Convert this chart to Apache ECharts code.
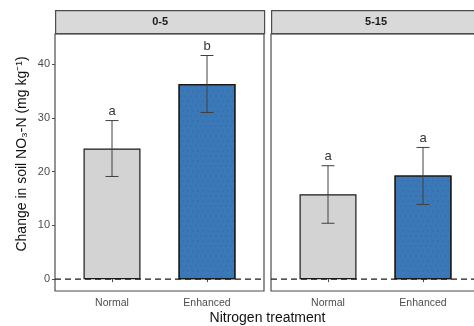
<!DOCTYPE html>
<html><head><meta charset="utf-8">
<script src="https://cdn.jsdelivr.net/npm/echarts@6/dist/echarts.min.js"></script>
<style>html,body{margin:0;padding:0;background:#fff}#c{width:474px;height:326px}</style>
</head><body><div id="c"></div>
<script>
var categories = ['Normal', 'Enhanced'];
var panels = ['0-5', '5-15'];
var means05 = [24.3, 36.3];
var lower05 = [19.1, 31.0];
var upper05 = [29.5, 41.6];
var letters05 = ['a', 'b'];
var means515 = [15.8, 19.3];
var lower515 = [10.4, 13.9];
var upper515 = [21.1, 24.5];
var letters515 = ['a', 'a'];
var yTicks = [0, 10, 20, 30, 40];
var xTitle = 'Nitrogen treatment';
var yTitle = 'Change in soil NO\u2083-N (mg kg\u207B\u00B9)';
var colors = ['#d3d3d3', '#3b78b8'];

var FONT = 'Liberation Sans, Arial, sans-serif';
var chart = echarts.init(document.getElementById('c'), null, {renderer: 'canvas'});

var grids = [
  {left: 55, top: 34, width: 209, height: 257},
  {left: 271, top: 34, width: 209, height: 257}
];
var panelData = [
  {m: means05, lo: lower05, hi: upper05, l: letters05},
  {m: means515, lo: lower515, hi: upper515, l: letters515}
];

var graphics = grids.map(function (g, i) {
  return {
    type: 'group', left: g.left, top: 10,
    children: [
      {type: 'rect', shape: {x: 0, y: 0, width: g.width, height: 23}, style: {fill: '#d9d9d9', stroke: '#4d4d4d', lineWidth: 1.2}},
      {type: 'text', x: g.width / 2, y: 11.5, style: {text: panels[i], fontFamily: FONT, fontSize: 11, fontWeight: 'bold', fill: '#1a1a1a', align: 'center', verticalAlign: 'middle'}}
    ]
  };
});
graphics.push({type: 'text', x: 267.5, y: 318, style: {text: xTitle, fontFamily: FONT, fontSize: 14, fill: '#111', align: 'center', verticalAlign: 'middle'}});
graphics.push({type: 'text', x: 22, y: 154, rotation: Math.PI / 2, style: {text: yTitle, fontFamily: FONT, fontSize: 14, fill: '#111', align: 'center', verticalAlign: 'middle'}});

var option = {
  animation: false,
  grid: grids.map(function (g) { return Object.assign({show: true, borderColor: '#4d4d4d', borderWidth: 1.2, backgroundColor: '#fff', containLabel: false, outerBoundsMode: 'none'}, g); }),
  xAxis: grids.map(function (g, i) {
    return {
      type: 'value', gridIndex: i, min: 0.4, max: 2.6,
      splitLine: {show: false}, axisLine: {show: false},
      axisTick: {show: true, length: 3, customValues: [1, 2], lineStyle: {color: '#4d4d4d'}},
      axisLabel: {customValues: [1, 2], formatter: function (v) { return categories[Math.round(v) - 1]; },
        fontFamily: FONT, fontSize: 10.5, color: '#4d4d4d', margin: 7}
    };
  }),
  yAxis: grids.map(function (g, i) {
    return {
      type: 'value', gridIndex: i, min: -2.2, max: 45.6,
      splitLine: {show: false}, axisLine: {show: false},
      axisTick: {show: i === 0, length: 3, customValues: yTicks, lineStyle: {color: '#4d4d4d'}},
      axisLabel: {show: i === 0, customValues: yTicks, fontFamily: FONT, fontSize: 11, color: '#4d4d4d', margin: 5}
    };
  }),
  graphic: graphics,
  series: []
};

panelData.forEach(function (p, i) {
  option.series.push({
    type: 'line', xAxisIndex: i, yAxisIndex: i, z: 1, symbol: 'none', silent: true,
    data: [[0.4, 0], [2.6, 0]],
    lineStyle: {color: '#1a1a1a', width: 1.4, type: [6, 4]}
  });
  option.series.push({
    type: 'bar', xAxisIndex: i, yAxisIndex: i, z: 2, barWidth: 57,
    data: p.m.map(function (v, k) {
      var item = {value: [k + 1, v], itemStyle: {color: colors[k], borderColor: '#1a1a1a', borderWidth: 1.2}};
      if (k === 1) item.itemStyle.decal = {symbol: 'circle', symbolSize: 0.5, color: 'rgba(20,40,80,0.35)', dashArrayX: [[2, 3], [0, 2, 2, 1]], dashArrayY: [2, 3]};
      return item;
    })
  });
  option.series.push({
    type: 'custom', xAxisIndex: i, yAxisIndex: i, z: 3,
    data: p.m.map(function (v, k) { return [k + 1, p.lo[k], p.hi[k], k]; }),
    renderItem: function (params, api) {
      var x = api.value(0), lo = api.value(1), hi = api.value(2), k = api.value(3);
      var a = api.coord([x, lo]), b = api.coord([x, hi]);
      var st = {stroke: '#404040', lineWidth: 1};
      return {type: 'group', children: [
        {type: 'line', shape: {x1: a[0], y1: a[1], x2: b[0], y2: b[1]}, style: st},
        {type: 'line', shape: {x1: a[0] - 6.5, y1: a[1], x2: a[0] + 6.5, y2: a[1]}, style: st},
        {type: 'line', shape: {x1: b[0] - 6.5, y1: b[1], x2: b[0] + 6.5, y2: b[1]}, style: st},
        {type: 'text', x: b[0], y: b[1] - 9, style: {text: p.l[k], fontFamily: FONT, fontSize: 13, fill: '#333', align: 'center', verticalAlign: 'middle'}}
      ]};
    }
  });
});

chart.setOption(option);
</script></body></html>
